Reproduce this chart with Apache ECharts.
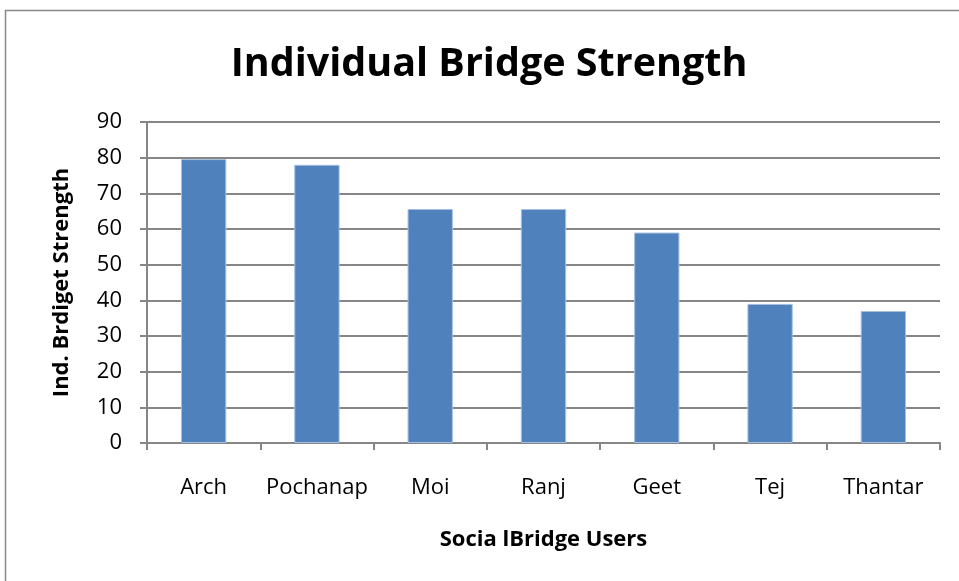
<!DOCTYPE html>
<html><head><meta charset="utf-8">
<script src="https://cdn.jsdelivr.net/npm/echarts@6/dist/echarts.min.js"></script>
<style>html,body{margin:0;padding:0;background:#fff}#c{width:959px;height:581px}</style>
</head><body><div id="c"></div>
<script>
const categories = ['Arch','Pochanap','Moi','Ranj','Geet','Tej','Thantar'];
const values = [79.6, 78, 65.6, 65.6, 59, 39, 37];
const yTicks = [0,10,20,30,40,50,60,70,80,90];
const F = '"Open Sans", sans-serif';
const chart = echarts.init(document.getElementById('c'));
chart.setOption({
  animation:false,
  graphic:[{type:'rect',shape:{x:5.5,y:10.5,width:1000,height:1000},style:{fill:'none',stroke:'#888',lineWidth:1.5},silent:true}],
  title:{text:'Individual Bridge Strength',left:484,top:40,textAlign:'center',textStyle:{fontFamily:F,fontSize:39.5,fontWeight:'bold',color:'#000'}},
  grid:{left:147,right:19,top:122,bottom:138,containLabel:false},
  xAxis:{type:'category',data:categories,
    name:'Socia lBridge Users',nameLocation:'middle',nameGap:86,
    nameTextStyle:{fontFamily:F,fontSize:22,fontWeight:'bold',color:'#000'},
    axisLine:{lineStyle:{color:'#868686',width:2}},
    axisTick:{show:true,length:7,lineStyle:{color:'#868686',width:2}},
    axisLabel:{interval:0,fontFamily:F,fontSize:22,color:'#000',margin:34}},
  yAxis:{type:'value',min:0,max:90,interval:10,
    name:'Ind. Brdiget Strength',nameLocation:'middle',nameGap:74,
    nameTextStyle:{fontFamily:F,fontSize:22,fontWeight:'bold',color:'#000'},
    axisLine:{show:true,lineStyle:{color:'#868686',width:2}},
    axisTick:{show:true,length:7,lineStyle:{color:'#868686',width:2}},
    splitLine:{lineStyle:{color:'#868686',width:2}},
    axisLabel:{fontFamily:F,fontSize:22,color:'#000',margin:25,
      formatter:v=>yTicks.includes(v)?String(v):''}},
  series:[{type:'bar',data:values,barCategoryGap:'60%',
    itemStyle:{color:'#4f81bd',borderColor:'#a6bfe0',borderWidth:1}}]
});
</script></body></html>
